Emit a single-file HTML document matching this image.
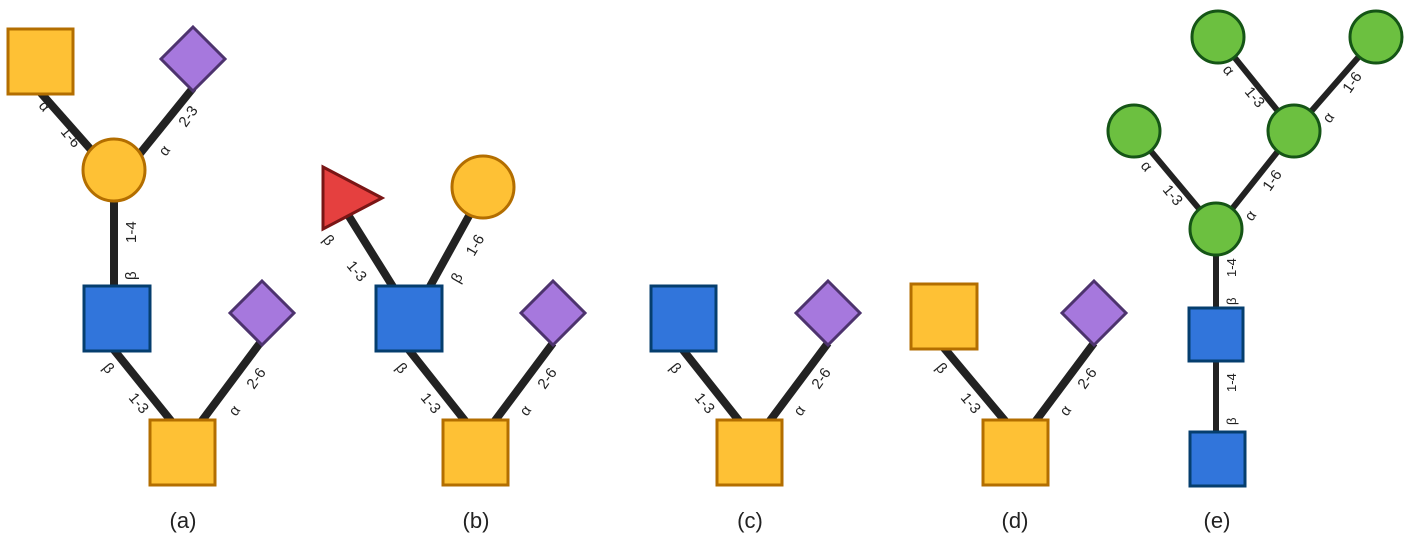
<!DOCTYPE html>
<html><head><meta charset="utf-8"><style>
html,body{margin:0;padding:0;background:#fff;}
svg{display:block;}
text{font-family:"Liberation Sans",sans-serif;fill:#222;}
.l{font-size:15px;}
.c{font-size:22px;}
</style></head><body>
<svg width="1411" height="550" viewBox="0 0 1411 550">
<g stroke="#222" stroke-width="8" stroke-linecap="butt">
<line x1="40" y1="92" x2="93" y2="152"/>
<line x1="193" y1="88" x2="138" y2="156"/>
<line x1="114" y1="200" x2="114" y2="288"/>
<line x1="114" y1="350" x2="172" y2="422"/>
<line x1="260" y1="343" x2="201" y2="422"/>
<line x1="345" y1="210" x2="395" y2="290"/>
<line x1="470" y1="214" x2="428" y2="290"/>
<line x1="409" y1="350" x2="466" y2="422"/>
<line x1="553" y1="343" x2="494" y2="422"/>
<line x1="683" y1="350" x2="740" y2="422"/>
<line x1="828" y1="343" x2="769" y2="422"/>
<line x1="944" y1="348" x2="1006" y2="422"/>
<line x1="1094" y1="343" x2="1035" y2="422"/>
</g>
<g stroke="#222" stroke-width="6">
<line x1="1218" y1="37" x2="1294" y2="131"/>
<line x1="1376" y1="37" x2="1294" y2="131"/>
<line x1="1134" y1="131" x2="1216" y2="229"/>
<line x1="1294" y1="131" x2="1216" y2="229"/>
<line x1="1216" y1="229" x2="1216" y2="310"/>
<line x1="1216" y1="360" x2="1216" y2="434"/>
</g>
<g stroke-width="3">
<rect x="8" y="29" width="65" height="65" fill="#fec135" stroke="#b36e00"/>
<polygon points="193,27 225,59 193,91 161,59" fill="#a678dd" stroke="#4d336e"/>
<circle cx="114" cy="170" r="31" fill="#fec135" stroke="#b36e00"/>
<rect x="84" y="286" width="66" height="65" fill="#3175db" stroke="#053e6e"/>
<rect x="150" y="420" width="65" height="65" fill="#fec135" stroke="#b36e00"/>
<polygon points="262,281 294,313 262,345 230,313" fill="#a678dd" stroke="#4d336e"/>

<polygon points="323,167 382,198 323,229" fill="#e5403f" stroke="#7a1515"/>
<circle cx="483" cy="187" r="31" fill="#fec135" stroke="#b36e00"/>
<rect x="376" y="286" width="66" height="65" fill="#3175db" stroke="#053e6e"/>
<polygon points="553,281 585,313 553,345 521,313" fill="#a678dd" stroke="#4d336e"/>
<rect x="443" y="420" width="65" height="65" fill="#fec135" stroke="#b36e00"/>

<rect x="651" y="286" width="65" height="65" fill="#3175db" stroke="#053e6e"/>
<polygon points="828,281 860,313 828,345 796,313" fill="#a678dd" stroke="#4d336e"/>
<rect x="717" y="420" width="65" height="65" fill="#fec135" stroke="#b36e00"/>

<rect x="911" y="284" width="66" height="65" fill="#fec135" stroke="#b36e00"/>
<polygon points="1094,281 1126,313 1094,345 1062,313" fill="#a678dd" stroke="#4d336e"/>
<rect x="983" y="420" width="65" height="65" fill="#fec135" stroke="#b36e00"/>

<circle cx="1218" cy="37" r="26" fill="#6cc040" stroke="#155516"/>
<circle cx="1376" cy="37" r="26" fill="#6cc040" stroke="#155516"/>
<circle cx="1134" cy="131" r="26" fill="#6cc040" stroke="#155516"/>
<circle cx="1294" cy="131" r="26" fill="#6cc040" stroke="#155516"/>
<circle cx="1216" cy="229" r="26" fill="#6cc040" stroke="#155516"/>
<rect x="1189" y="308" width="54" height="53" fill="#3175db" stroke="#053e6e"/>
<rect x="1190" y="432" width="55" height="54" fill="#3175db" stroke="#053e6e"/>
</g>
<g class="l">
<text transform="translate(38,106) rotate(50)">α</text>
<text transform="translate(60,132) rotate(50)">1-6</text>
<text transform="translate(166,157) rotate(-55)">α</text>
<text transform="translate(186,128) rotate(-55)">2-3</text>
<text transform="translate(136,243) rotate(-90)">1-4</text>
<text transform="translate(136,280) rotate(-90)">β</text>
<text transform="translate(102,368) rotate(50)">β</text>
<text transform="translate(128,398) rotate(50)">1-3</text>
<text transform="translate(236,417) rotate(-55)">α</text>
<text transform="translate(254,390) rotate(-55)">2-6</text>

<text transform="translate(322,240) rotate(50)">β</text>
<text transform="translate(346,266) rotate(50)">1-3</text>
<text transform="translate(459,284) rotate(-60)">β</text>
<text transform="translate(474,257) rotate(-60)">1-6</text>
<text transform="translate(395,368) rotate(50)">β</text>
<text transform="translate(420,398) rotate(50)">1-3</text>
<text transform="translate(527,417) rotate(-55)">α</text>
<text transform="translate(545,390) rotate(-55)">2-6</text>

<text transform="translate(669,368) rotate(50)">β</text>
<text transform="translate(694,398) rotate(50)">1-3</text>
<text transform="translate(801,417) rotate(-55)">α</text>
<text transform="translate(819,390) rotate(-55)">2-6</text>

<text transform="translate(935,368) rotate(50)">β</text>
<text transform="translate(960,398) rotate(50)">1-3</text>
<text transform="translate(1067,417) rotate(-55)">α</text>
<text transform="translate(1085,390) rotate(-55)">2-6</text>

<text transform="translate(1222,70) rotate(50)">α</text>
<text transform="translate(1244,92) rotate(50)">1-3</text>
<text transform="translate(1330,124) rotate(-55)">α</text>
<text transform="translate(1350,94) rotate(-55)">1-6</text>
<text transform="translate(1140,166) rotate(50)">α</text>
<text transform="translate(1162,190) rotate(50)">1-3</text>
<text transform="translate(1252,222) rotate(-55)">α</text>
<text transform="translate(1270,192) rotate(-55)">1-6</text>
<text transform="translate(1236,277) rotate(-90)" style="font-size:13px">1-4</text>
<text transform="translate(1236,305) rotate(-90)" style="font-size:13px">β</text>
<text transform="translate(1236,392) rotate(-90)" style="font-size:13px">1-4</text>
<text transform="translate(1236,425) rotate(-90)" style="font-size:13px">β</text>
</g>
<g class="c" text-anchor="middle">
<text x="183" y="528">(a)</text>
<text x="476" y="528">(b)</text>
<text x="750" y="528">(c)</text>
<text x="1015" y="528">(d)</text>
<text x="1217" y="528">(e)</text>
</g>
</svg>
</body></html>
